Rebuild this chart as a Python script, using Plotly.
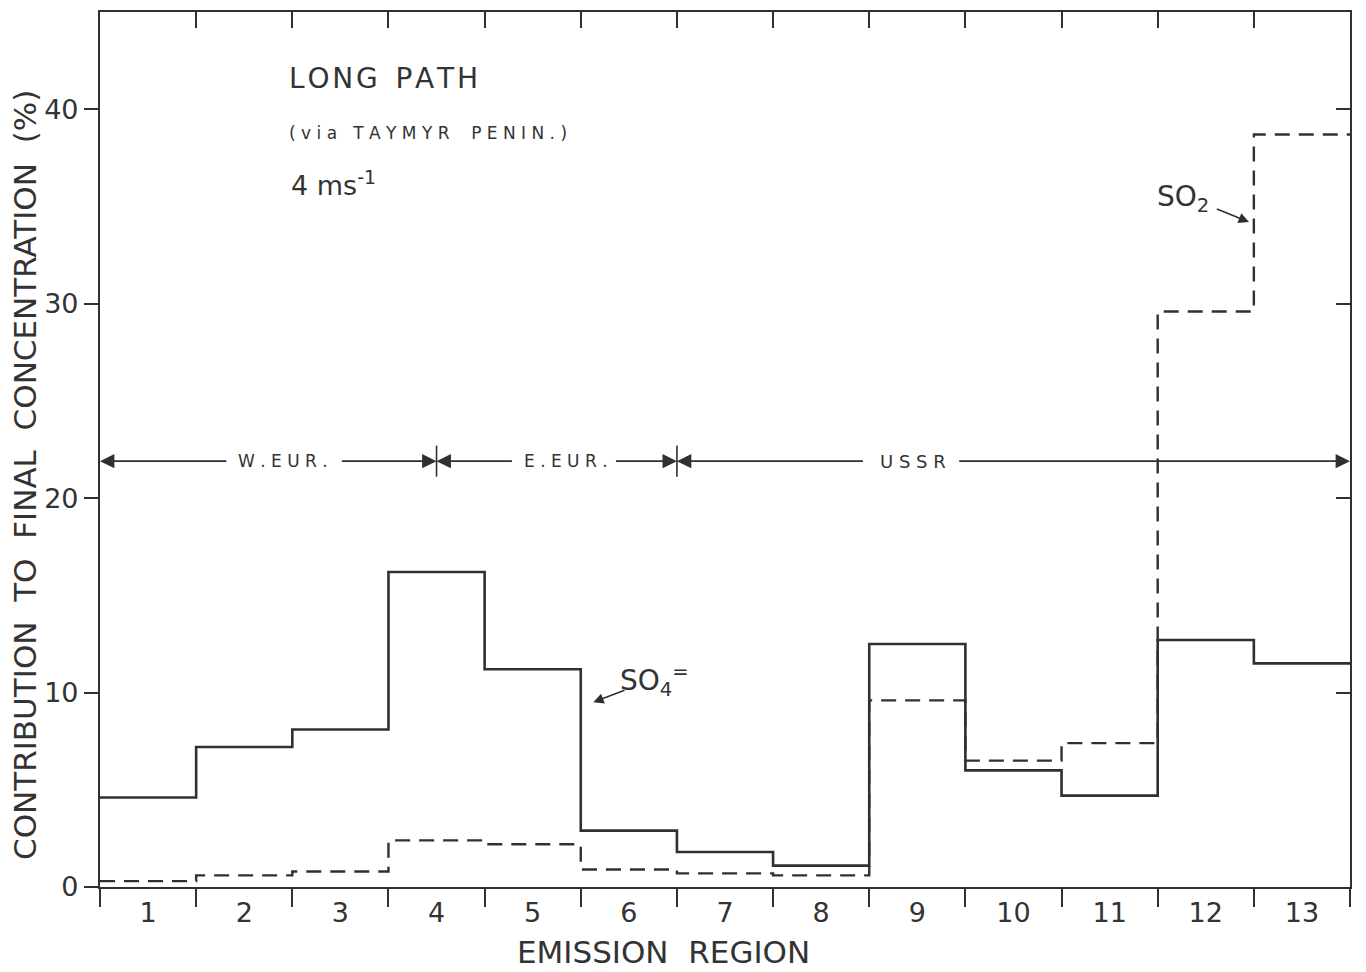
import numpy as np
import plotly.graph_objects as go

regions = list(range(1, 14))
region_labels = [str(r) for r in regions]
so4 = [4.6, 7.2, 8.1, 16.2, 11.2, 2.9, 1.8, 1.1, 12.5, 6.0, 4.7, 12.7, 11.5]
so2 = [0.3, 0.6, 0.8, 2.4, 2.2, 0.9, 0.7, 0.6, 9.6, 6.5, 7.4, 29.6, 38.7]
y_ticks = [0, 10, 20, 30, 40]

edges = np.arange(0.5, 14.0, 1.0)
INK = "#303030"
FONT = "DejaVu Sans, sans-serif"
FONT_W = "DejaVu Sans, Verdana, sans-serif"
HS = "\u200a"

fig = go.Figure()
fig.add_trace(go.Scatter(x=edges, y=so4 + [so4[-1]], mode="lines", line_shape="hv",
                         line=dict(color=INK, width=2.6), hoverinfo="skip", showlegend=False))
fig.add_trace(go.Scatter(x=edges, y=so2 + [so2[-1]], mode="lines", line_shape="hv",
                         line=dict(color=INK, width=2.4, dash="15px,9px"), hoverinfo="skip", showlegend=False))
# helper invisible traces to register the overlay axes
fig.add_trace(go.Scatter(x=[1], y=[0], xaxis="x2", yaxis="y2", mode="markers",
                         marker=dict(opacity=0), hoverinfo="skip", showlegend=False))
fig.add_trace(go.Scatter(x=[1], y=[0], xaxis="x3", yaxis="y", mode="markers",
                         marker=dict(opacity=0), hoverinfo="skip", showlegend=False))

ax_common = dict(range=[0.5, 13.5], showgrid=False, zeroline=False, fixedrange=True)
fig.update_layout(
    width=1366, height=972,
    margin=dict(l=100, r=16, t=12, b=85),
    paper_bgcolor="white", plot_bgcolor="white",
    showlegend=False,
    xaxis=dict(**ax_common, tickvals=list(edges), ticks="outside", ticklen=18, tickwidth=2,
               tickcolor=INK, showticklabels=False, showline=True, linewidth=2.2, linecolor=INK),
    xaxis2=dict(**ax_common, overlaying="x", side="bottom", anchor="y", tickvals=regions,
                ticktext=region_labels, ticks="outside", ticklen=2, tickcolor="rgba(0,0,0,0)",
                showline=False, tickfont=dict(family=FONT, size=27, color="#333")),
    xaxis3=dict(**ax_common, overlaying="x", side="top", anchor="y", tickvals=list(edges),
                ticks="inside", ticklen=16, tickwidth=2, tickcolor=INK, showticklabels=False,
                showline=True, linewidth=2.2, linecolor=INK),
    yaxis=dict(range=[0, 45], tickvals=y_ticks, ticks="outside", ticklen=14, tickwidth=2,
               tickcolor=INK, showline=True, linewidth=2.2, linecolor=INK, showgrid=False,
               zeroline=False, fixedrange=True,
               tickfont=dict(family=FONT_W, size=27, color="#333")),
    yaxis2=dict(range=[0, 45], overlaying="y", side="right", anchor="x", tickvals=y_ticks[1:],
                ticks="inside", ticklen=14, tickwidth=2, tickcolor=INK, showticklabels=False,
                showline=True, linewidth=2.2, linecolor=INK, showgrid=False, zeroline=False,
                fixedrange=True),
)

anns = []
def txt(x, y, text, size, xanchor="center", family=FONT, xref="x", yref="y"):
    anns.append(dict(x=x, y=y, xref=xref, yref=yref, text=text, showarrow=False,
                     xanchor=xanchor, yanchor="middle",
                     font=dict(family=family, size=size, color="#333")))

def arrow(x_head, y_head, x_tail, y_tail, size=1.8, width=1.6):
    anns.append(dict(x=x_head, y=y_head, ax=x_tail, ay=y_tail, xref="x", yref="y",
                     axref="x", ayref="y", text="", showarrow=True, arrowhead=2,
                     arrowsize=size, arrowwidth=width, arrowcolor=INK))

txt(2.44, 41.6, HS.join("LONG") + "  " + HS.join("PATH"), 28, "left", FONT_W)
txt(2.44, 38.8, "( v i a   T A Y M Y R    P E N I N . )", 17, "left", FONT_W)
txt(2.47, 36.2, "4 ms<sup>-1</sup>", 27, "left", FONT_W)

band_y = 21.9
txt(2.40, band_y, "W . E U R .", 17, "center", FONT_W)
txt(5.35, band_y, "E . E U R .", 17, "center", FONT_W)
txt(8.95, band_y, "U S S R", 18, "center", FONT_W)
arrow(0.5, band_y, 1.83, band_y)
arrow(4.0, band_y, 3.0, band_y)
arrow(4.0, band_y, 4.80, band_y)
arrow(6.5, band_y, 5.85, band_y)
arrow(6.5, band_y, 8.45, band_y)
arrow(13.5, band_y, 9.42, band_y)

txt(6.27, 10.6, "SO<sub>4</sub><sup>=</sup>", 28, "center", FONT_W)
arrow(5.63, 9.5, 5.97, 10.15, size=1.3, width=1.6)
txt(11.76, 35.4, "SO<sub>2</sub>", 28, "center", FONT_W)
arrow(12.45, 34.2, 12.1, 34.9, size=1.3, width=1.6)

anns.append(dict(x=(663 - 100) / 1250, y=(887 - 952) / 875, xref="paper", yref="paper",
                 text="EMISSION  REGION",
                 showarrow=False, xanchor="center", yanchor="middle",
                 font=dict(family=FONT, size=31, color="#333")))
anns.append(dict(x=(25 - 100) / 1250, y=(887 - 475) / 875, xref="paper", yref="paper",
                 text="CONTRIBUTION  TO  FINAL  CONCENTRATION  (%)", textangle=-90,
                 showarrow=False, xanchor="center", yanchor="middle",
                 font=dict(family=FONT, size=31, color="#333")))
fig.update_layout(annotations=anns)

shapes = []
for xs in (4.0, 6.5):
    shapes.append(dict(type="line", xref="x", yref="y", x0=xs, x1=xs, y0=21.1, y1=22.7,
                       line=dict(color=INK, width=1.6)))
fig.update_layout(shapes=shapes)

fig.write_html("out.html")
